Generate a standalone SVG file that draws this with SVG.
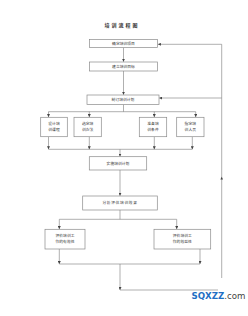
<svg xmlns="http://www.w3.org/2000/svg" width="248" height="316" viewBox="0 0 248 316">
<style>
.box{fill:#fff;stroke:#8a8a8a;stroke-width:0.7}
.t{font-family:"Liberation Serif","Noto Sans CJK SC",serif;font-size:3.8px;fill:#333;text-anchor:middle}
.ln{fill:none;stroke:#7a7a7a;stroke-width:0.6}
</style>
<defs>
<marker id="ar" markerUnits="userSpaceOnUse" markerWidth="3" markerHeight="3" viewBox="0 0 3 3" refX="3" refY="1.5" orient="auto">
<path d="M0,0 L3,1.5 L0,3 Z" fill="#444"/>
</marker>
</defs>
<rect width="248" height="316" fill="#fff"/>
<text x="122" y="26.5" font-family="'Noto Sans CJK SC',sans-serif" font-size="5" font-weight="bold" fill="#333" text-anchor="middle" letter-spacing="2">培训流程图</text>
<g id="connectors">
<path class="ln" d="M123.5,47.7 V61.8" marker-end="url(#ar)"/>
<path class="ln" d="M123.5,71 V94.8" marker-end="url(#ar)"/>
<path class="ln" d="M123.5,104.5 V111.7 M48.5,111.7 H195.7"/>
<path class="ln" d="M48.5,111.7 V117.1" marker-end="url(#ar)"/>
<path class="ln" d="M89.3,111.7 V117.1" marker-end="url(#ar)"/>
<path class="ln" d="M154.3,111.7 V117.1" marker-end="url(#ar)"/>
<path class="ln" d="M195.7,111.7 V117.1" marker-end="url(#ar)"/>
<path class="ln" d="M48.5,136.7 V149.3" marker-end="url(#ar)"/>
<path class="ln" d="M89.3,136.7 V149.3" marker-end="url(#ar)"/>
<path class="ln" d="M154.3,136.7 V149.3" marker-end="url(#ar)"/>
<path class="ln" d="M192.3,136.7 V149.3" marker-end="url(#ar)"/>
<path class="ln" d="M48.5,149.3 H192.3"/>
<path class="ln" d="M120,149.3 V156.5" marker-end="url(#ar)"/>
<path class="ln" d="M120,170 V195.8" marker-end="url(#ar)"/>
<path class="ln" d="M120,210 V219.3 M59.3,219.3 H176.7"/>
<path class="ln" d="M59.3,219.3 V229.1" marker-end="url(#ar)"/>
<path class="ln" d="M176.7,219.3 V229.1" marker-end="url(#ar)"/>
<path class="ln" d="M59.3,249 V264" marker-end="url(#ar)"/>
<path class="ln" d="M200,249 V264" marker-end="url(#ar)"/>
<path class="ln" d="M59.3,264 H200"/>
<path class="ln" d="M120,264 V290" marker-end="url(#ar)"/>
<path class="ln" d="M120,290 H221.7 V44.3 H157.9" marker-end="url(#ar)"/>
<path class="ln" d="M221.7,98 H159.2" marker-end="url(#ar)"/>
<path d="M221.7,176.8 L223,179.5 L220.4,179.5 Z" fill="#444"/>
</g>
<g id="n1"><rect class="box" x="89.5" y="39.5" width="68" height="8"/><text class="t" x="123.5" y="44.9">确定培训项目</text></g>
<g id="n2"><rect class="box" x="89.5" y="62" width="68" height="9"/><text class="t" x="123.5" y="67.8">建立培训目标</text></g>
<g id="n3"><rect class="box" x="87" y="95" width="72" height="9.5"/><text class="t" x="123" y="101">制订培训计划</text></g>
<g id="n4"><rect class="box" x="40.7" y="117.3" width="26.6" height="19.4"/><text class="t" x="54" y="125">设计培</text><text class="t" x="54" y="131">训课程</text></g>
<g id="n5"><rect class="box" x="74" y="117.3" width="27.3" height="19.4"/><text class="t" x="87.6" y="125">选定培</text><text class="t" x="87.6" y="131">训办法</text></g>
<g id="n6"><rect class="box" x="139.3" y="117.3" width="27.4" height="19.4"/><text class="t" x="153" y="125">准备培</text><text class="t" x="153" y="131">训条件</text></g>
<g id="n7"><rect class="box" x="176.7" y="117.3" width="27.3" height="19.4"/><text class="t" x="190.3" y="125">指定培</text><text class="t" x="190.3" y="131">训人员</text></g>
<g id="n8"><rect class="box" x="89.3" y="156.7" width="57.4" height="13.3"/><text class="t" x="118" y="164.6">实施培训计划</text></g>
<g id="n9"><rect class="box" x="82.7" y="196" width="74.6" height="14"/><text class="t" x="120" y="204.3" letter-spacing="0.6">分析评估培训效果</text></g>
<g id="n10"><rect class="box" x="45" y="229.3" width="40" height="19.7"/><text class="t" x="65" y="236.6">评价培训工</text><text class="t" x="65" y="242.6">作的有效性</text></g>
<g id="n11"><rect class="box" x="154" y="229.3" width="56.7" height="19.7"/><text class="t" x="182.3" y="236.6">评价培训工</text><text class="t" x="182.3" y="242.6">作的效益性</text></g>
<rect x="218" y="278" width="30" height="38" fill="#fff"/>
<text x="191.5" y="298.5" font-family="'DejaVu Sans',sans-serif" font-size="9" font-weight="bold" textLength="54" lengthAdjust="spacingAndGlyphs"><tspan fill="#1f6fc4">SQXZZ</tspan><tspan fill="#444" font-weight="normal">.com</tspan></text>
</svg>
